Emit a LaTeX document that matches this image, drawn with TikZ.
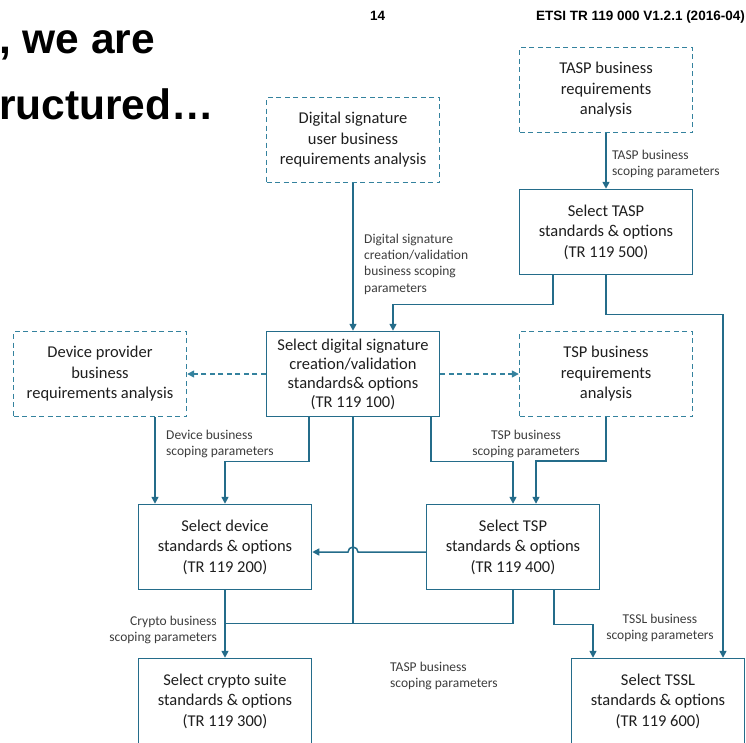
\documentclass[tikz,border=0pt]{standalone}
\usepackage{fontspec}
\setmainfont{Carlito}
\newfontfamily\headfont{Liberation Sans}
\usetikzlibrary{arrows.meta}
\usetikzlibrary{positioning}
\definecolor{boxblue}{RGB}{36,108,138}
\definecolor{dashblue}{RGB}{52,130,158}
\definecolor{txtgray}{RGB}{30,30,30}
\definecolor{lblgray}{RGB}{60,60,60}
\tikzset {
  chart node/.style = {
    rectangle,
    minimum width = 173pt,
    minimum height = 85pt,
    inner sep = 0,
    align = center,
    text = txtgray,
    font = \fontsize{16.5}{20.5}\selectfont
  },
  % requirements analysis box
  req/.style = {
    chart node,
    draw = dashblue,
    line width = 1.4pt,
    dash pattern = on 5pt off 3.5pt
  },
  % standards selection box
  sel/.style = {
    chart node,
    draw = boxblue,
    line width = 1.5pt
  },
  % scoping parameters label
  lbl/.style = {
    inner sep = 0,
    text = lblgray,
    font = \fontsize{13.5}{16.3}\selectfont
  },
  % page header and slide text
  head/.style = {
    inner sep = 0,
    font = \headfont\bfseries\fontsize{13.5}{15}\selectfont
  },
  slide/.style = {
    head,
    font = \headfont\bfseries\fontsize{42.5}{46}\selectfont
  }
}
\tikzset {
  chart path/.style = {
    draw = boxblue,
    line width = 1.5pt
  },
  % path with an arrow at its end
  arr/.style = {
    chart path,
    -{Triangle[length=7pt,width=7pt]}
  },
  % path with no arrow
  narr/.style = {
    chart path
  },
  % dashed path with an arrow
  darr/.style = {
    arr,
    draw = dashblue,
    dash pattern = on 5pt off 3.5pt
  }
}

\begin{document}
\begin{tikzpicture}[x=1pt, y=-1pt]
    \useasboundingbox (0,0) rectangle (746,742);

    \node[head, anchor=base west] (page) at (370,20) {14};
    \node[head, anchor=base east] (etsi) at (745,20) {ETSI TR 119 000 V1.2.1 (2016-04)};
    \node[slide, anchor=base west] (slide1) at (-1,53) {, we are};
    \node[slide, anchor=base west] (slide2) at (-1,119) {ructured\ldots};

    \node[req] (taspreq) at (606,90) {TASP business\\requirements\\analysis};
    \node[req] (dsreq) at (353,140) {Digital signature\\user business\\requirements analysis};
    \node[sel] (taspsel) at (606,232) {Select TASP\\standards \& options\\(TR 119 500)};
    \node[sel, font=\fontsize{16.5}{19}\selectfont] (dssel) at (353,374) {Select digital signature\\creation/validation\\standards\& options\\(TR 119 100)};
    \node[req] (devreq) at (100,374) {Device provider\\business\\requirements analysis};
    \node[req] (tspreq) at (606,374) {TSP business\\requirements\\analysis};
    \node[sel] (devsel) at (225,547) {Select device\\standards \& options\\(TR 119 200)};
    \node[sel] (tspsel) at (513,547) {Select TSP\\standards \& options\\(TR 119 400)};
    \node[sel] (cryptosel) at (225,701) {Select crypto suite\\standards \& options\\(TR 119 300)};
    \node[sel] (tsslsel) at (658,701) {Select TSSL\\standards \& options\\(TR 119 600)};

    \node[lbl, anchor=west, align=left] (tasplbl) at (612,164) {TASP business\\scoping parameters};
    \node[lbl, anchor=west, align=left] (dslbl) at (364,264) {Digital signature\\creation/validation\\business scoping\\parameters};
    \node[lbl, anchor=west, align=left] (devlbl) at (166,444) {Device business\\scoping parameters};
    \node[lbl, align=center] (tsplbl) at (526,444) {TSP business\\scoping parameters};
    \node[lbl, anchor=east, align=right] (cryptolbl) at (217,630) {Crypto business\\scoping parameters};
    \node[lbl, align=center] (tssllbl) at (660,628) {TSSL business\\scoping parameters};
    \node[lbl, anchor=west, align=left] (tasplbl2) at (390,676) {TASP business\\scoping parameters};

    \coordinate (hop) at (353,552);

    \draw[arr] (taspreq) -- (taspsel);
    \draw[arr] (dsreq) -- (dssel);

    \draw[arr] ([xshift=-53pt]taspsel.south)
    -- ++(0,29)
    -| ([xshift=40pt]dssel.north);

    \draw[arr] (taspsel.south)
    -- ++(0,39)
    -| ([xshift=65pt]tsslsel.north);

    \draw[darr] (dssel) -- (devreq);
    \draw[darr] (dssel) -- (tspreq);

    \draw[arr] ([xshift=55pt]devreq.south) -- ([xshift=-70pt]devsel.north);

    \draw[arr] ([xshift=-44pt]dssel.south)
    -- ++(0,44)
    -| (devsel.north);

    \draw[arr] ([xshift=78pt]dssel.south)
    -- ++(0,44)
    -| (tspsel.north);

    \draw[arr] (tspreq.south)
    -- ++(0,44)
    -| ([xshift=23pt]tspsel.north);

    \draw[narr] (dssel.south) -- ++(0,206);
    \draw[arr] (devsel) -- (cryptosel);

    \draw[narr] (tspsel.south)
    -- ++(0,33)
    -| (devsel.south);

    \draw[arr] ([xshift=41pt]tspsel.south)
    -- ++(0,34)
    -| ([xshift=-65pt]tsslsel.north);

    \draw[arr] ([yshift=-5pt]tspsel.west)
    -- ([xshift=5pt]hop)
    arc[start angle=0, end angle=180, radius=5pt]
    -- ([yshift=-5pt]devsel.east);
\end{tikzpicture}
\end{document}
